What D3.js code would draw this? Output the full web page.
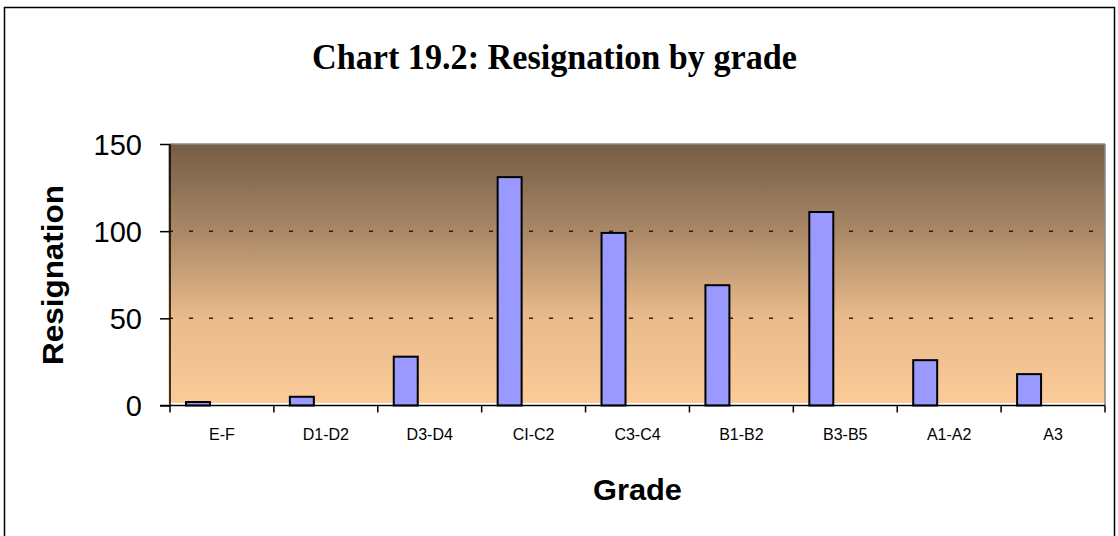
<!DOCTYPE html>
<html>
<head>
<meta charset="utf-8">
<script src="https://cdn.jsdelivr.net/npm/d3@7"></script>
<style>
  body { margin: 0; background: #fff; }
  .tick text { font-family: "Liberation Sans", Arial, sans-serif; }
</style>
</head>
<body>
<div id="chart"></div>
<script>
var grades = ["E-F", "D1-D2", "D3-D4", "CI-C2", "C3-C4", "B1-B2", "B3-B5", "A1-A2", "A3"];
var resignations = [2, 5, 28, 131, 99, 69, 111, 26, 18];
var yTicks = [0, 50, 100, 150];
var gridValues = [50, 100];

var w = 1118;
var h = 536;
var plotLeft = 170, plotRight = 1105, plotTop = 144, plotBottom = 405.5;

var svg = d3.select("#chart")
	.append("svg")
	.attr("width", w)
	.attr("height", h);

// outer frame
svg.append("rect")
	.attr("x", 4.5).attr("y", 7.5)
	.attr("width", 1110).attr("height", 540)
	.attr("fill", "none")
	.attr("stroke", "#000")
	.attr("stroke-width", 1.5);

var grad = svg.append("defs").append("linearGradient")
	.attr("id", "bg")
	.attr("x1", 0).attr("y1", 0).attr("x2", 0).attr("y2", 1);
grad.append("stop").attr("offset", 0).attr("stop-color", "#755d46");
grad.append("stop").attr("offset", 0.33).attr("stop-color", "#a88766");
grad.append("stop").attr("offset", 0.66).attr("stop-color", "#e8b98a");
grad.append("stop").attr("offset", 1).attr("stop-color", "#fbcb99");

var xScale = d3.scaleBand()
	.domain(grades)
	.range([plotLeft, plotRight])
	.padding(0);

var yScale = d3.scaleLinear()
	.domain([0, 150])
	.range([plotBottom, plotTop]);

// plot background
svg.append("rect")
	.attr("x", plotLeft - 1.5)
	.attr("y", yScale(150))
	.attr("width", plotRight - plotLeft + 1.5)
	.attr("height", yScale(0) - yScale(150) - 2.5)
	.attr("fill", "url(#bg)");

svg.append("line")
	.attr("x1", plotLeft).attr("x2", plotRight)
	.attr("y1", yScale(150)).attr("y2", yScale(150))
	.attr("stroke", "#888").attr("stroke-width", 1.5);
svg.append("line")
	.attr("x1", plotRight).attr("x2", plotRight)
	.attr("y1", yScale(150)).attr("y2", yScale(0))
	.attr("stroke", "#888").attr("stroke-width", 1.5);

// dotted gridlines
svg.selectAll(".grid")
	.data(gridValues)
	.enter().append("line")
	.attr("class", "grid")
	.attr("x1", plotLeft).attr("x2", plotRight - 8)
	.attr("y1", function(d) { return yScale(d); })
	.attr("y2", function(d) { return yScale(d); })
	.attr("stroke", "#222")
	.attr("stroke-width", 1.5)
	.attr("stroke-dasharray", "4,16")
	.attr("stroke-dashoffset", 1);

// bars: first of three slots in each category
var bw = xScale.bandwidth();
var slot = bw * 24 / 104;
var offset = bw * 16 / 104;

svg.selectAll(".bar")
	.data(resignations)
	.enter().append("rect")
	.attr("class", "bar")
	.attr("x", function(d, i) { return xScale(grades[i]) + offset; })
	.attr("y", function(d) { return yScale(d); })
	.attr("width", slot)
	.attr("height", function(d) { return yScale(0) - yScale(d); })
	.attr("fill", "#9999ff")
	.attr("stroke", "#000")
	.attr("stroke-width", 2);

// axes
var yAxis = d3.axisLeft(yScale)
	.tickValues(yTicks)
	.tickSize(10)
	.tickPadding(18);

var gy = svg.append("g")
	.attr("transform", "translate(" + plotLeft + ",0)")
	.call(yAxis);
gy.select(".domain").remove();
gy.append("line")
	.attr("x1", 0).attr("x2", 0)
	.attr("y1", yScale(150)).attr("y2", yScale(0))
	.attr("stroke", "#000").attr("stroke-width", 1.5);
gy.selectAll(".tick line").attr("stroke-width", 1.5);
gy.selectAll(".tick text")
	.attr("font-size", 29)
	.attr("fill", "#000")
	.attr("dy", "0.36em");

var xAxis = d3.axisBottom(xScale)
	.tickSize(0)
	.tickPadding(23);

var gx = svg.append("g")
	.attr("transform", "translate(0," + plotBottom + ")")
	.call(xAxis);
gx.select(".domain").remove();
gx.selectAll(".tick text")
	.attr("font-size", 16)
	.attr("fill", "#000");

gx.append("line")
	.attr("x1", plotLeft - 10).attr("x2", plotRight)
	.attr("y1", 0).attr("y2", 0)
	.attr("stroke", "#000").attr("stroke-width", 1.5);

var bounds = grades.map(function(g) { return xScale(g); }).concat([plotRight]);
gx.selectAll(".sep")
	.data(bounds)
	.enter().append("line")
	.attr("class", "sep")
	.attr("x1", function(d) { return d; })
	.attr("x2", function(d) { return d; })
	.attr("y1", 0).attr("y2", 7)
	.attr("stroke", "#000").attr("stroke-width", 1.5);

// titles
svg.append("text")
	.attr("x", 554.5)
	.attr("y", 69)
	.attr("text-anchor", "middle")
	.attr("font-family", "'Liberation Serif', 'Times New Roman', serif")
	.attr("font-weight", "bold")
	.attr("font-size", 36)
	.attr("textLength", 485)
	.attr("lengthAdjust", "spacingAndGlyphs")
	.text("Chart 19.2: Resignation by grade");

svg.append("text")
	.attr("transform", "translate(63,275) rotate(-90)")
	.attr("text-anchor", "middle")
	.attr("font-family", "'Liberation Sans', Arial, sans-serif")
	.attr("font-weight", "bold")
	.attr("font-size", 30)
	.attr("textLength", 180)
	.attr("lengthAdjust", "spacingAndGlyphs")
	.text("Resignation");

svg.append("text")
	.attr("x", (plotLeft + plotRight) / 2)
	.attr("y", 500)
	.attr("text-anchor", "middle")
	.attr("font-family", "'Liberation Sans', Arial, sans-serif")
	.attr("font-weight", "bold")
	.attr("font-size", 30)
	.attr("textLength", 89)
	.attr("lengthAdjust", "spacingAndGlyphs")
	.text("Grade");
</script>
</body>
</html>
